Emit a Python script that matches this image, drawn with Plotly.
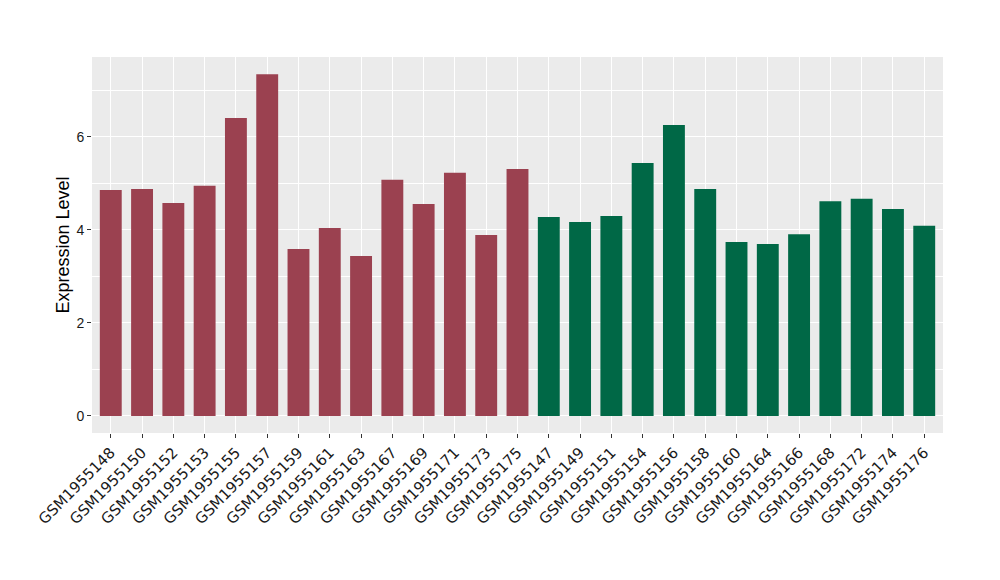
import plotly.graph_objects as go

samples = ["GSM1955148","GSM1955150","GSM1955152","GSM1955153","GSM1955155","GSM1955157",
           "GSM1955159","GSM1955161","GSM1955163","GSM1955167","GSM1955169","GSM1955171",
           "GSM1955173","GSM1955175","GSM1955147","GSM1955149","GSM1955151","GSM1955154",
           "GSM1955156","GSM1955158","GSM1955160","GSM1955164","GSM1955166","GSM1955168",
           "GSM1955172","GSM1955174","GSM1955176"]
values = [4.86, 4.88, 4.58, 4.95, 6.41, 7.35, 3.59, 4.04, 3.44, 5.08, 4.56, 5.23, 3.89, 5.31,
          4.28, 4.17, 4.30, 5.44, 6.26, 4.88, 3.74, 3.70, 3.91, 4.62, 4.67, 4.45, 4.09]
groups = ["A"] * 14 + ["B"] * 13
group_colors = {"A": "#9B4150", "B": "#006846"}

fig = go.Figure()
fig.add_trace(go.Bar(
    x=samples, y=values,
    marker=dict(color=[group_colors[g] for g in groups], line=dict(width=0)),
    width=0.7, showlegend=False,
))

font = "Liberation Sans, Arial, sans-serif"
fig.update_layout(
    width=1000, height=580,
    margin=dict(l=84, r=65, t=49, b=155),
    paper_bgcolor="white", plot_bgcolor="#EBEBEB",
    font=dict(family=font, color="#1a1a1a"),
)
fig.update_xaxes(
    type="category", range=[-0.6, len(samples) - 0.4], automargin=False,
    showgrid=True, gridcolor="white", gridwidth=1.1,
    ticks="outside", ticklen=4, tickcolor="#333333", tickwidth=1,
    tickangle=-45, tickfont=dict(size=15, family="DejaVu Sans", color="#1a1a1a"),
    showline=False, zeroline=False,
)
fig.update_yaxes(
    range=[-0.366, 7.72], automargin=False,
    tickvals=[0, 2, 4, 6], ticktext=["0", "2", "4", "6"],
    showgrid=True, gridcolor="white", gridwidth=1.1,
    minor=dict(tickvals=[1, 3, 5, 7], showgrid=True, gridcolor="white", gridwidth=0.5, ticks=""),
    ticks="outside", ticklen=4, tickcolor="#333333", tickwidth=1,
    tickfont=dict(size=14, family=font, color="#1a1a1a"),
    title=dict(text="Expression Level", font=dict(size=18, family=font, color="black"), standoff=2),
    zeroline=False, showline=False,
)
fig.write_html("out.html")
